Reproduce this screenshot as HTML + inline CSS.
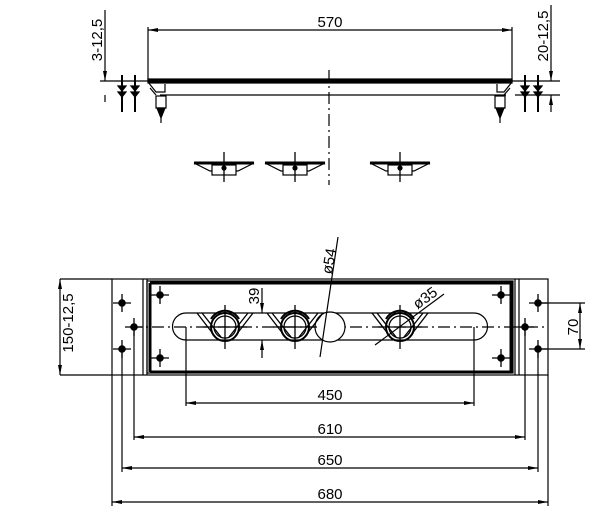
<!DOCTYPE html>
<html><head><style>html,body{margin:0;padding:0;background:#fff}svg{display:block}text{font-family:"Liberation Sans",sans-serif;font-size:15px;fill:#000}</style></head>
<body>
<svg width="612" height="532" viewBox="0 0 612 532" xmlns="http://www.w3.org/2000/svg">
<defs>
<marker id="a" viewBox="0 0 10 4" refX="10" refY="2" markerWidth="10" markerHeight="4" markerUnits="userSpaceOnUse" orient="auto-start-reverse"><path d="M0,0L10,2L0,4z" fill="#000"/></marker>
<g id="hole"><circle r="3.2" fill="#000"/><line x1="-9" y1="0" x2="9" y2="0" stroke="#000" stroke-width="1.3"/><line x1="0" y1="-9" x2="0" y2="9" stroke="#000" stroke-width="1.3"/></g>
<g id="br" stroke="#000" fill="none" stroke-width="1.2"><path d="M-30,-3H30L14,5H-14Z" fill="#fff"/><line x1="-30" y1="-3" x2="30" y2="-3" stroke-width="3"/><rect x="-12" y="-1" width="24" height="10" fill="#fff"/><line x1="0" y1="-14" x2="0" y2="16" stroke-width="1.3"/><circle cx="0" cy="2" r="2" fill="#000"/></g>
<g id="valve" stroke="#000" fill="none" stroke-width="1.3"><path d="M-28,-14L-8,12M-23,-14L-4,10M28,-14L8,12M23,-14L4,10"/><path d="M-14,-8A16,16 0 0 1 14,-8" stroke-width="2"/><circle r="14" stroke-width="2"/><circle r="11"/><line x1="-22" y1="0" x2="22" y2="0"/><line x1="0" y1="-22" x2="0" y2="22"/></g>
</defs>
<g stroke="#000" fill="none" stroke-width="1.2">
<line x1="148" y1="30" x2="512" y2="30" marker-start="url(#a)" marker-end="url(#a)"/>
<line x1="148" y1="27" x2="148" y2="82"/><line x1="512" y1="27" x2="512" y2="82"/>
<line x1="100" y1="81" x2="560" y2="81"/>
<rect x="148" y="79" width="364" height="4" fill="#000"/>
<line x1="160" y1="95" x2="506" y2="95"/><line x1="515" y1="95" x2="560" y2="95"/>
<line x1="105" y1="10" x2="105" y2="81" marker-end="url(#a)"/><line x1="105" y1="95" x2="105" y2="102"/>
<line x1="551" y1="5" x2="551" y2="81" marker-end="url(#a)"/><line x1="551" y1="112" x2="551" y2="95" marker-end="url(#a)"/>
<path d="M148,82L156,92H165V84M150,88L156,95" />
<path d="M512,82L504,92H497V84M510,88L504,95" />
<rect x="156" y="96" width="10" height="12"/><path d="M157,108L161,118L165,108Z" fill="#000"/><line x1="161" y1="118" x2="161" y2="123"/>
<rect x="495" y="96" width="10" height="12"/><path d="M496,108L500,118L504,108Z" fill="#000"/><line x1="500" y1="118" x2="500" y2="123"/>
<g stroke-width="2"><line x1="122" y1="75" x2="122" y2="112"/><line x1="135" y1="75" x2="135" y2="112"/><line x1="525" y1="75" x2="525" y2="112"/><line x1="538" y1="75" x2="538" y2="112"/></g>
<g fill="#000"><path d="M118,86h8l-4,5zM118,92h8l-4,5zM131,86h8l-4,5zM131,92h8l-4,5zM521,86h8l-4,5zM521,92h8l-4,5zM534,86h8l-4,5zM534,92h8l-4,5z"/></g>
<line x1="329" y1="70" x2="329" y2="185" stroke-dasharray="12,4,2,4"/>
<use href="#br" x="224" y="166"/><use href="#br" x="295" y="166"/><use href="#br" x="400" y="166"/>
<rect x="112" y="279" width="436" height="96"/>
<line x1="143" y1="279" x2="143" y2="375"/><line x1="147" y1="279" x2="147" y2="375"/>
<line x1="515" y1="279" x2="515" y2="375"/><line x1="519" y1="279" x2="519" y2="375"/>
<rect x="147" y="281" width="366" height="92" stroke-width="1.2"/>
<line x1="150" y1="283" x2="513" y2="283" stroke-width="3"/><line x1="150" y1="372" x2="513" y2="372" stroke-width="3"/>
<line x1="150" y1="283" x2="150" y2="372" stroke-width="3"/><line x1="511" y1="283" x2="511" y2="372" stroke-width="3"/>
<path d="M186,313H474A13.5,13.5 0 0 1 474,340H186A13.5,13.5 0 0 1 186,313Z" fill="#fff"/>
<line x1="130" y1="327" x2="545" y2="327" stroke-dasharray="12,4,2,4"/>
<circle cx="330" cy="327" r="15" fill="#fff"/>
<use href="#valve" x="225" y="327"/><use href="#valve" x="295" y="327"/><use href="#valve" x="400" y="327"/>
<use href="#hole" x="122" y="303"/><use href="#hole" x="122" y="349"/><use href="#hole" x="134" y="327"/>
<use href="#hole" x="160" y="295"/><use href="#hole" x="160" y="358"/>
<use href="#hole" x="501" y="295"/><use href="#hole" x="501" y="358"/>
<use href="#hole" x="538" y="303"/><use href="#hole" x="538" y="349"/><use href="#hole" x="525" y="327"/>
<line x1="60" y1="279" x2="112" y2="279"/><line x1="60" y1="375" x2="112" y2="375"/>
<line x1="60" y1="279" x2="60" y2="375" marker-start="url(#a)" marker-end="url(#a)"/>
<line x1="538" y1="303" x2="585" y2="303"/><line x1="538" y1="349" x2="585" y2="349"/>
<line x1="580" y1="303" x2="580" y2="349" marker-start="url(#a)" marker-end="url(#a)"/>
<line x1="262" y1="288" x2="262" y2="313" marker-end="url(#a)"/><line x1="262" y1="358" x2="262" y2="340" marker-end="url(#a)"/>
<line x1="338" y1="237" x2="320" y2="357"/>
<line x1="375" y1="345" x2="444" y2="294"/>
<line x1="122" y1="349" x2="122" y2="472"/><line x1="538" y1="349" x2="538" y2="472"/>
<line x1="112" y1="375" x2="112" y2="506"/><line x1="548" y1="375" x2="548" y2="506"/>
<line x1="134" y1="327" x2="134" y2="440"/><line x1="525" y1="327" x2="525" y2="440"/>
<line x1="186" y1="327" x2="186" y2="406"/><line x1="474" y1="327" x2="474" y2="406"/>
<line x1="186" y1="403" x2="474" y2="403" marker-start="url(#a)" marker-end="url(#a)"/>
<line x1="134" y1="437" x2="525" y2="437" marker-start="url(#a)" marker-end="url(#a)"/>
<line x1="122" y1="468" x2="538" y2="468" marker-start="url(#a)" marker-end="url(#a)"/>
<line x1="112" y1="502" x2="548" y2="502" marker-start="url(#a)" marker-end="url(#a)"/>
</g>
<text x="330" y="27" text-anchor="middle">570</text>
<text transform="translate(102,40) rotate(-90)" text-anchor="middle">3-12,5</text>
<text transform="translate(548,36) rotate(-90)" text-anchor="middle">20-12,5</text>
<text transform="translate(73,323) rotate(-90)" text-anchor="middle">150-12,5</text>
<text transform="translate(578,327) rotate(-90)" text-anchor="middle">70</text>
<text transform="translate(259,296) rotate(-90)" text-anchor="middle">39</text>
<text transform="translate(334,262) rotate(-80)" text-anchor="middle">ø54</text>
<text transform="translate(428,302) rotate(-36)" text-anchor="middle">ø35</text>
<text x="330" y="400" text-anchor="middle">450</text>
<text x="330" y="434" text-anchor="middle">610</text>
<text x="330" y="465" text-anchor="middle">650</text>
<text x="330" y="499" text-anchor="middle">680</text>
</svg>
</body></html>
